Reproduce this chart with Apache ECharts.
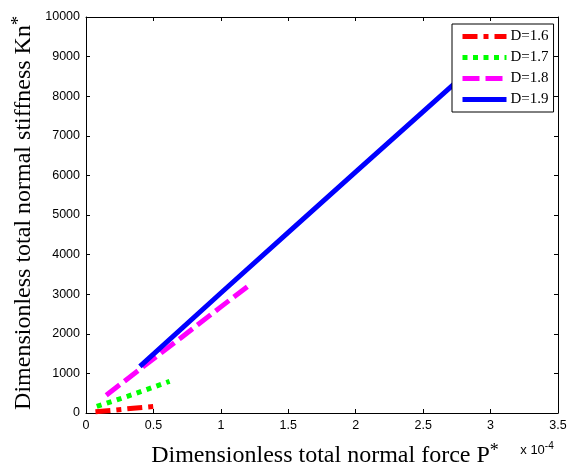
<!DOCTYPE html>
<html>
<head>
<meta charset="utf-8">
<script src="https://cdn.jsdelivr.net/npm/echarts@6/dist/echarts.min.js"></script>
<style>
  html, body { margin: 0; padding: 0; background: #fff; }
  #chart { width: 570px; height: 471px; }
</style>
</head>
<body>
<div id="chart"></div>
<script>
// Dimensionless total normal force P* (in units of 1e-4) and stiffness Kn*
const seriesNames = ['D=1.6', 'D=1.7', 'D=1.8', 'D=1.9'];

const forceD16 = [0.07, 0.2, 0.35, 0.5];
const stiffD16 = [30, 70, 120, 165];

const forceD17 = [0.08, 0.35, 0.62];
const stiffD17 = [165, 470, 800];

const forceD18 = [0.15, 0.4, 0.7, 1.0, 1.2];
const stiffD18 = [450, 1105, 1890, 2680, 3200];

const forceD19 = [0.4, 1.0, 1.5, 2.0, 2.5, 3.0];
const stiffD19 = [1180, 3030, 4560, 6090, 7610, 9130];

const xTicks = { min: 0, max: 3.5, step: 0.5 };
const yTicks = { min: 0, max: 10000, step: 1000 };

const pair = (xs, ys) => xs.map((x, i) => [x, ys[i]]);

const serif = '"Liberation Serif", "Times New Roman", serif';
const sans = '"Liberation Sans", Arial, sans-serif';

const lineStyles = [
  { color: '#ff0000', type: [15, 6, 5, 6] },
  { color: '#00ff00', type: [5, 5.5] },
  { color: '#ff00ff', type: [17, 6] },
  { color: '#0000ff', type: 'solid' }
];
const dataSets = [
  pair(forceD16, stiffD16),
  pair(forceD17, stiffD17),
  pair(forceD18, stiffD18),
  pair(forceD19, stiffD19)
];

const chart = echarts.init(document.getElementById('chart'), null, { renderer: 'canvas' });

const baseAxis = {
  axisLine: { show: true, onZero: false, lineStyle: { color: '#000', width: 1 } },
  axisTick: { show: true, inside: true, length: 4, lineStyle: { color: '#000' } },
  splitLine: { show: false }
};

chart.setOption({
  animation: false,
  backgroundColor: '#fff',
  grid: { left: 86, right: 12, top: 17, bottom: 58 },
  xAxis: [
    Object.assign({}, baseAxis, {
      type: 'value', position: 'bottom',
      min: xTicks.min, max: xTicks.max, interval: xTicks.step,
      axisLabel: { color: '#000', fontFamily: sans, fontSize: 12.5, margin: 6,
        formatter: v => String(v) }
    }),
    Object.assign({}, baseAxis, {
      type: 'value', position: 'top',
      min: xTicks.min, max: xTicks.max, interval: xTicks.step,
      axisLabel: { show: false }
    })
  ],
  yAxis: [
    Object.assign({}, baseAxis, {
      type: 'value', position: 'left',
      min: yTicks.min, max: yTicks.max, interval: yTicks.step,
      axisLabel: { color: '#000', fontFamily: sans, fontSize: 12.5, margin: 6,
        formatter: v => String(v) }
    }),
    Object.assign({}, baseAxis, {
      type: 'value', position: 'right',
      min: yTicks.min, max: yTicks.max, interval: yTicks.step,
      axisLabel: { show: false }
    })
  ],
  legend: {
    orient: 'vertical',
    left: 452, top: 24,
    padding: [5, 5, 5, 8],
    itemGap: 6,
    itemWidth: 44,
    itemHeight: 14,
    backgroundColor: '#fff',
    borderColor: '#000',
    borderWidth: 1,
    borderRadius: 0,
    itemStyle: { color: 'rgba(0,0,0,0)', borderWidth: 0, opacity: 0 },
    lineStyle: { width: 5 },
    textStyle: { fontFamily: serif, fontSize: 15, color: '#000', padding: [0, 0, 0, -1] },
    data: seriesNames
  },
  series: seriesNames.map((name, i) => ({
    name: name,
    type: 'line',
    xAxisIndex: 0,
    yAxisIndex: 0,
    data: dataSets[i],
    showSymbol: false,
    symbol: 'none',
    smooth: false,
    lineStyle: { color: lineStyles[i].color, width: 5, type: lineStyles[i].type, cap: 'butt' },
    itemStyle: { color: lineStyles[i].color }
  })),
  graphic: [
    {
      type: 'text',
      x: 325, y: 456,
      style: {
        text: '{m|Dimensionless total normal force P}{s|*}',
        align: 'center', verticalAlign: 'middle',
        rich: {
          m: { fontFamily: serif, fontSize: 24, color: '#000', lineHeight: 28 },
          s: { fontFamily: serif, fontSize: 18, color: '#000', lineHeight: 28, verticalAlign: 'top' }
        }
      }
    },
    {
      type: 'text',
      x: 24, y: 213,
      rotation: Math.PI / 2,
      style: {
        text: '{m|Dimensionless total normal stiffness Kn}{s|*}',
        align: 'center', verticalAlign: 'middle',
        rich: {
          m: { fontFamily: serif, fontSize: 24, color: '#000', lineHeight: 28 },
          s: { fontFamily: serif, fontSize: 18, color: '#000', lineHeight: 28, verticalAlign: 'top' }
        }
      }
    },
    {
      type: 'text',
      x: 537, y: 450,
      style: {
        text: '{m|x 10}{s|-4}',
        align: 'center', verticalAlign: 'middle',
        rich: {
          m: { fontFamily: sans, fontSize: 13, color: '#000', lineHeight: 18 },
          s: { fontFamily: sans, fontSize: 10, color: '#000', lineHeight: 18, verticalAlign: 'top' }
        }
      }
    }
  ]
});
</script>
</body>
</html>
